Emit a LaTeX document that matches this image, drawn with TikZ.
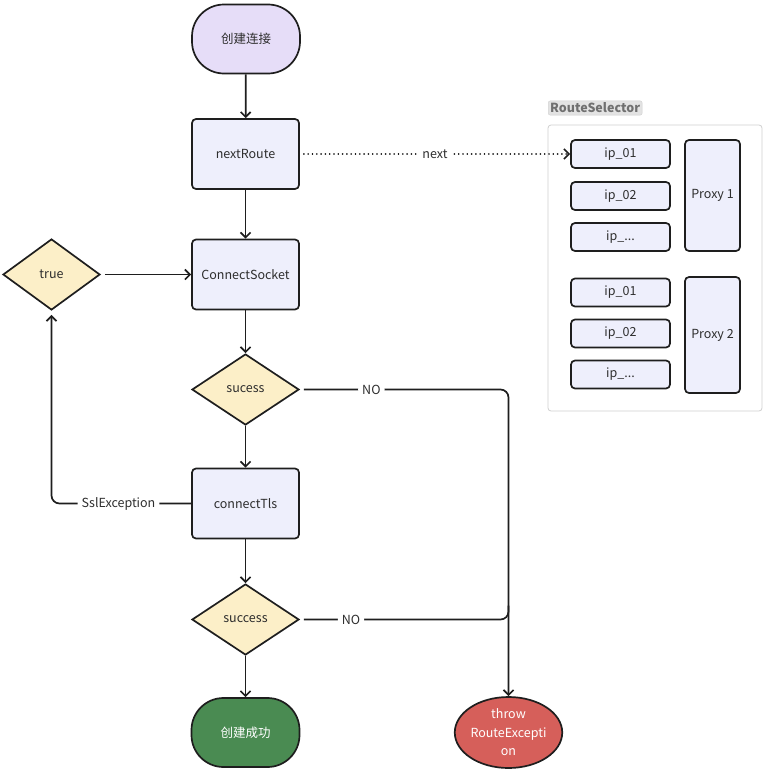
\documentclass[tikz,border=0pt]{standalone}
\usepackage{fontspec}
\setmainfont{Noto Sans CJK SC}
\usetikzlibrary{shapes.geometric,arrows.meta}
\definecolor{boxfill}{HTML}{EEEFFC}
\definecolor{startfill}{HTML}{E6DDF8}
\definecolor{decfill}{HTML}{FCEFC8}
\definecolor{okfill}{HTML}{4A8B52}
\definecolor{errfill}{HTML}{D65F5A}
\definecolor{edge}{HTML}{1E1E1E}
\definecolor{txt}{HTML}{2E2E2E}
\definecolor{grp}{HTML}{D0D0D0}
\definecolor{grptxt}{HTML}{707070}
\tikzset{
  x=1pt,y=-1pt,
  every node/.style={font=\fontsize{12.5}{15}\selectfont, text=txt},
  procbox/.style={draw=edge, line width=1.7pt, fill=boxfill, rounded corners=4pt, minimum width=107pt, minimum height=70pt},
  ipbox/.style={draw=edge, line width=1.7pt, fill=boxfill, rounded corners=4pt, minimum width=99pt, minimum height=28pt},
  proxybox/.style={draw=edge, line width=1.7pt, fill=boxfill, rounded corners=4pt, minimum width=55pt},
  decbox/.style={draw=edge, line width=1.7pt, fill=decfill, diamond, aspect=1.52, minimum width=107pt, minimum height=71pt, inner sep=0pt},
  termbox/.style={draw=edge, line width=1.7pt, rounded corners=32pt, minimum width=108pt, minimum height=69pt},
  flow/.style={draw=edge, line width=1.7pt, -{Straight Barb[length=5pt,width=10pt]}},
  plain/.style={draw=edge, line width=1.7pt},
  lbl/.style={fill=white, inner sep=4pt},
}
\begin{document}
\begin{tikzpicture}
\useasboundingbox (0,0) rectangle (765,771);
\fill[white] (0,0) rectangle (765,771);

% RouteSelector group
\node[draw=grp, line width=0.8pt, rounded corners=3pt, minimum width=214pt, minimum height=286pt] (grp) at (655,268) {};
\node[fill=grp!60, draw=grp, rounded corners=2pt, inner sep=2pt, font=\fontsize{12.5}{15}\selectfont\bfseries, text=grptxt, anchor=west] (grplbl) at (548,108) {RouteSelector};

\node[ipbox] (ip11) at (620.5,154) {ip\_01};
\node[ipbox] (ip12) at (620.5,196) {ip\_02};
\node[ipbox] (ip13) at (620.5,237) {ip\_...};
\node[ipbox] (ip21) at (620.5,292.5) {ip\_01};
\node[ipbox] (ip22) at (620.5,333.5) {ip\_02};
\node[ipbox] (ip23) at (620.5,374.5) {ip\_...};
\node[proxybox, minimum height=111pt] (px1) at (712.5,195.5) {Proxy 1};
\node[proxybox, minimum height=116pt] (px2) at (712.5,335) {Proxy 2};

% main flow
\node[termbox, fill=startfill] (start) at (246,39) {创建连接};
\node[procbox] (next) at (245.5,154) {nextRoute};
\node[procbox] (sock) at (245.5,274.5) {ConnectSocket};
\node[decbox, minimum width=97pt] (true) at (51.5,274.5) {true};
\node[decbox] (suc1) at (245.5,389.5) {sucess};
\node[procbox] (tls) at (245.5,503.5) {connectTls};
\node[decbox] (suc2) at (245.5,619.5) {success};
\node[termbox, fill=okfill, text=white] (ok) at (245.5,732.5) {创建成功};
\node[draw=edge, line width=1.7pt, fill=errfill, ellipse, minimum width=107pt, minimum height=71pt, inner sep=0pt, text=white, align=center, font=\fontsize{12.5}{18.5}\selectfont] (err) at (508.5,732.5) {throw\\RouteExcepti\\on};

\coordinate (j1) at (508.5,389.5);
\coordinate (j2) at (508.5,619.5);
\coordinate (j3) at (51.5,503.5);

\draw[flow] (start) -- (next);
\draw[flow] (next) -- (sock);
\draw[flow] (sock) -- (suc1);
\draw[flow] (suc1) -- (tls);
\draw[flow] (tls) -- (suc2);
\draw[flow] (suc2) -- (ok);
\draw[flow] ([xshift=4pt]true.east) -- (sock.west);

\draw[draw=edge, line width=1.7pt, line cap=round, dash pattern=on 0.1pt off 4.2pt, -{Straight Barb[length=5pt,width=10pt]}, shorten <=4pt] (next.east) -- node[lbl] {next} (ip11.west);

\draw[flow, rounded corners=8pt] ([xshift=4pt]suc1.east) -- node[lbl, pos=0.33] {NO} (j1) -- (err.north);
\draw[plain, rounded corners=8pt] ([xshift=4pt]suc2.east) -- node[lbl, pos=0.23] {NO} (j2) -- ([yshift=14pt]j2);
\draw[flow, rounded corners=8pt] (tls.west) -- node[lbl, pos=0.52] {SslException} (j3) -- ([yshift=-4pt]true.south);
\end{tikzpicture}
\end{document}
